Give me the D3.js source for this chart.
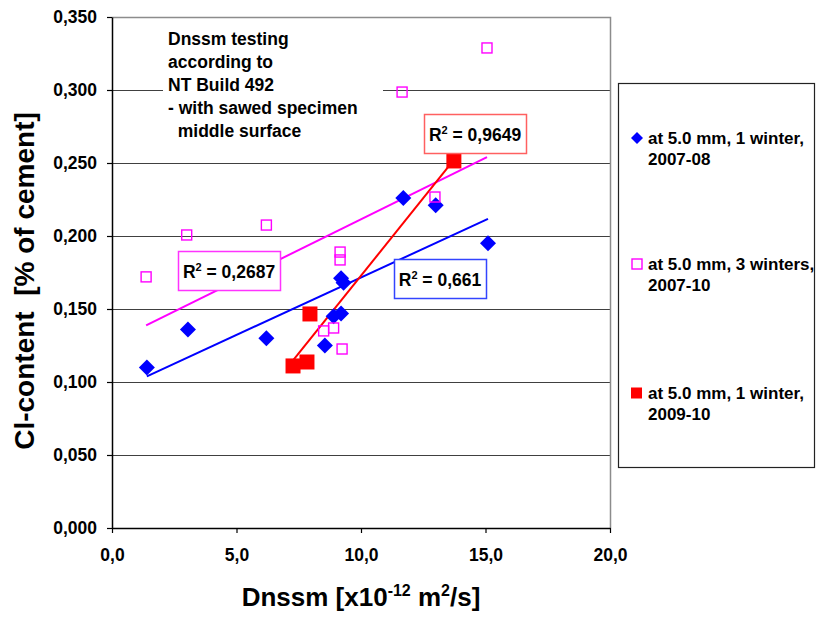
<!DOCTYPE html>
<html><head><meta charset="utf-8">
<script src="https://cdn.jsdelivr.net/npm/d3@7"></script>
<style>
body{margin:0;background:#fff}
text{font-family:"Liberation Sans",Arial,sans-serif;font-weight:bold;fill:#000}
</style>
</head><body>
<svg id="c" width="817" height="617"></svg>
<script>
// ---- data ----
const seriesNames = ["at 5.0 mm, 1 winter,", "at 5.0 mm, 3 winters,", "at 5.0 mm, 1 winter,"];
const seriesPeriods = ["2007-08", "2007-10", "2009-10"];
const blueX = [1.4, 3.05, 6.2, 8.55, 8.9, 9.2, 9.2, 9.3, 11.7, 13.0, 15.1];
const blueY = [0.110, 0.136, 0.130, 0.125, 0.145, 0.147, 0.171, 0.168, 0.226, 0.221, 0.195];
const magentaX = [1.37, 3.0, 6.2, 9.16, 9.16, 8.5, 8.9, 9.24, 12.97, 11.65, 15.06];
const magentaY = [0.172, 0.2007, 0.2075, 0.189, 0.1836, 0.135, 0.137, 0.1226, 0.2267, 0.2986, 0.3288];
const redX = [7.27, 7.83, 7.95, 13.73];
const redY = [0.111, 0.1137, 0.1466, 0.2514];
const r2Labels = ["0,661", "0,2687", "0,9649"];
const xTicks = [0, 5, 10, 15, 20];
const yTicks = [0, 0.05, 0.10, 0.15, 0.20, 0.25, 0.30, 0.35];
const noteLines = ["Dnssm testing", "according to", "NT Build 492", "- with sawed specimen", "  middle surface"];

// ---- setup ----
const svg = d3.select("#c");
svg.append("rect").attr("width", 817).attr("height", 617).attr("fill", "#fff");
const L = 112, R = 610, T = 17, B = 528;
const x = d3.scaleLinear().domain([0, 20]).range([L, R]);
const y = d3.scaleLinear().domain([0, 0.35]).range([B, T]);
const loc = d3.formatLocale({decimal: ",", thousands: ".", grouping: [3], currency: ["", ""]});
const fy = loc.format(".3f"), fx = loc.format(".1f");

// gridlines
svg.append("g").selectAll("line").data(yTicks.filter(v => v > 0 && v < 0.35)).join("line")
  .attr("x1", L).attr("x2", R).attr("y1", d => Math.round(y(d)) + 0.5).attr("y2", d => Math.round(y(d)) + 0.5)
  .attr("stroke", "#404040").attr("stroke-width", 1.2);
// plot border top/right
svg.append("path").attr("d", `M${L},${T + 0.5}H${R + 0.5}V${B}`).attr("fill", "none")
  .attr("stroke", "#8c8c8c").attr("stroke-width", 1.5);

// axes
const gy = svg.append("g").attr("transform", `translate(${L},0)`)
  .call(d3.axisLeft(y).tickValues(yTicks).tickFormat(fy).tickSize(5).tickPadding(10).tickSizeOuter(0));
const gx = svg.append("g").attr("transform", `translate(0,${B})`)
  .call(d3.axisBottom(x).tickValues(xTicks).tickFormat(fx).tickSize(5).tickPadding(16).tickSizeOuter(0));
[gy, gx].forEach(g => {
  g.selectAll("text").style("font-size", "17.5px").style("font-family", '"Liberation Sans",Arial,sans-serif').style("font-weight", "bold").attr("fill", "#000");
  g.select(".domain").attr("stroke", "#000").attr("stroke-width", 1.5);
  g.selectAll(".tick line").attr("stroke", "#000").attr("stroke-width", 1.2);
});

// linear regression (trendlines)
function fit(xs, ys) {
  const mx = d3.mean(xs), my = d3.mean(ys);
  let sxy = 0, sxx = 0;
  xs.forEach((v, i) => { sxy += (v - mx) * (ys[i] - my); sxx += (v - mx) ** 2; });
  const m = sxy / sxx, b = my - m * mx;
  const x0 = d3.min(xs), x1 = d3.max(xs);
  return [[x0, m * x0 + b], [x1, m * x1 + b]];
}
const series = [
  {xs: blueX, ys: blueY, color: "#0000ff"},
  {xs: magentaX, ys: magentaY, color: "#ff00ff"},
  {xs: redX, ys: redY, color: "#ff0000"}
];
const line = d3.line().x(d => x(d[0])).y(d => y(d[1]));
series.forEach(s => {
  svg.append("path").attr("d", line(fit(s.xs, s.ys))).attr("stroke", s.color)
    .attr("stroke-width", 2).attr("fill", "none");
});

const diamond = r => `M0,${-r}L${r},0L0,${r}L${-r},0Z`;
// markers
svg.append("g").selectAll("path").data(blueX.map((v, i) => [v, blueY[i]])).join("path")
  .attr("d", diamond(8)).attr("transform", d => `translate(${x(d[0])},${y(d[1])})`).attr("fill", "#0000ff");
svg.append("g").selectAll("rect").data(magentaX.map((v, i) => [v, magentaY[i]])).join("rect")
  .attr("x", d => x(d[0]) - 5).attr("y", d => y(d[1]) - 5).attr("width", 10).attr("height", 10)
  .attr("fill", "none").attr("stroke", "#ff00ff").attr("stroke-width", 1.4);
svg.append("g").selectAll("rect").data(redX.map((v, i) => [v, redY[i]])).join("rect")
  .attr("x", d => x(d[0]) - 7.5).attr("y", d => y(d[1]) - 7.5).attr("width", 15).attr("height", 15)
  .attr("fill", "#ff0000");

// R² labels
const r2Boxes = [
  {x: 394, y: 259, w: 92, h: 39, stroke: "#3344ff"},
  {x: 178, y: 251, w: 102, h: 39, stroke: "#ff33ff"},
  {x: 424, y: 114, w: 102, h: 39, stroke: "#ff6060"}
];
r2Boxes.forEach((b, i) => {
  svg.append("rect").attr("x", b.x + 0.5).attr("y", b.y + 0.5).attr("width", b.w).attr("height", b.h)
    .attr("fill", "#fff").attr("stroke", b.stroke).attr("stroke-width", 1.5);
  const t = svg.append("text").attr("x", b.x + b.w / 2).attr("y", b.y + 27)
    .attr("text-anchor", "middle").style("font-size", "17.5px");
  t.append("tspan").text("R");
  t.append("tspan").attr("dy", -7).style("font-size", "11px").text("2");
  t.append("tspan").attr("dy", 7).text(" = " + r2Labels[i]);
});

// annotation note
svg.append("rect").attr("x", 163).attr("y", 24).attr("width", 220).attr("height", 124).attr("fill", "#fff");
svg.append("g").selectAll("text").data(noteLines).join("text")
  .attr("x", 168).attr("y", (d, i) => 45 + i * 23).style("font-size", "17.5px")
  .style("white-space", "pre").attr("xml:space", "preserve").text(d => d);

// legend
svg.append("rect").attr("x", 618.5).attr("y", 83.5).attr("width", 196).attr("height", 384)
  .attr("fill", "#fff").attr("stroke", "#222").attr("stroke-width", 1.2);
const legY = [138, 264, 393];
legY.forEach((ly, i) => {
  if (i === 0) svg.append("path").attr("d", diamond(6)).attr("transform", `translate(637,${ly})`).attr("fill", "#0000ff");
  if (i === 1) svg.append("rect").attr("x", 632).attr("y", ly - 5).attr("width", 10).attr("height", 10)
    .attr("fill", "none").attr("stroke", "#ff00ff").attr("stroke-width", 1.4);
  if (i === 2) svg.append("rect").attr("x", 631).attr("y", ly - 5.5).attr("width", 11).attr("height", 11).attr("fill", "#ff0000");
  svg.append("text").attr("x", 648).attr("y", ly + 6).style("font-size", "17px").text(seriesNames[i]);
  svg.append("text").attr("x", 648).attr("y", ly + 27).style("font-size", "17px").text(seriesPeriods[i]);
});

// axis titles
const xt = svg.append("text").attr("x", 361).attr("y", 606).attr("text-anchor", "middle").style("font-size", "26px");
xt.append("tspan").text("Dnssm [x10");
xt.append("tspan").attr("dy", -10).style("font-size", "16px").text("-12");
xt.append("tspan").attr("dy", 10).text(" m");
xt.append("tspan").attr("dy", -10).style("font-size", "16px").text("2");
xt.append("tspan").attr("dy", 10).text("/s]");

svg.append("text").attr("transform", "translate(34,281) rotate(-90)").attr("text-anchor", "middle")
  .style("font-size", "28px").style("white-space", "pre").attr("xml:space", "preserve")
  .text("Cl-content  [% of cement]");
</script>
</body></html>
